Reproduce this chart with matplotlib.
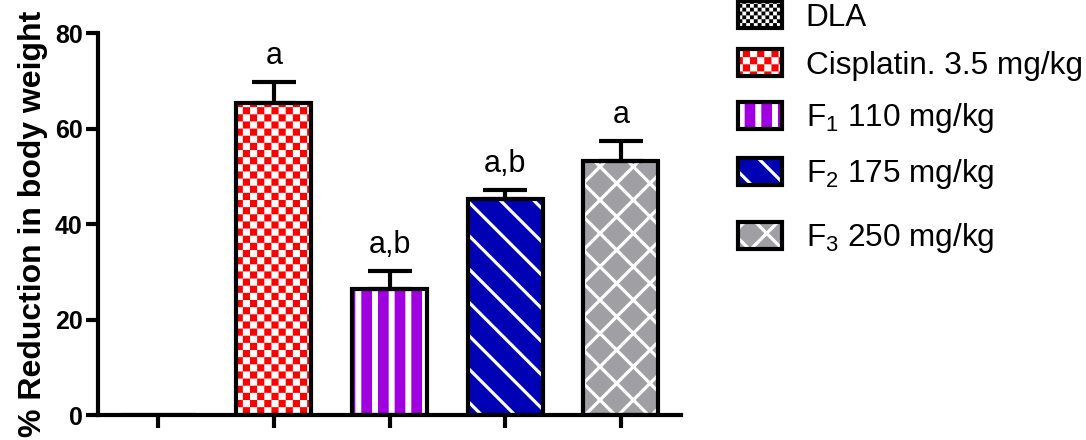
import warnings
import numpy as np
import matplotlib
matplotlib.use("Agg")
import matplotlib.pyplot as plt
from matplotlib import hatch as mhatch
from matplotlib.path import Path
from matplotlib.patches import Patch
from matplotlib.legend_handler import HandlerTuple, HandlerPatch

warnings.filterwarnings("ignore", category=matplotlib.MatplotlibDeprecationWarning)

# ---- data -------------------------------------------------------------
groups = ["DLA", "Cisplatin. 3.5 mg/kg", "F$_1$ 110 mg/kg",
          "F$_2$ 175 mg/kg", "F$_3$ 250 mg/kg"]
reduction = [0.0, 65.4, 26.3, 45.3, 53.2]
sem = [0.0, 4.4, 3.9, 1.9, 4.1]
letters = ["", "a", "a,b", "a,b", "a"]
yticks = [0, 20, 40, 60, 80]


# ---- checkerboard hatch ------------------------------------------------
class CheckerHatch(mhatch.HatchPatternBase):
    """Filled checkerboard; every 'c' adds two squares per hatch tile side."""

    def __init__(self, hatch, density):
        self.n = 2 * hatch.count("c")
        self.num_vertices = (self.n * self.n // 2) * 5

    def set_vertices_and_codes(self, vertices, codes):
        s = 1.0 / self.n
        k = 0
        for i in range(self.n):
            for j in range(self.n):
                if (i + j) % 2:
                    continue
                x0, y0 = i * s, j * s
                vertices[k:k + 5] = [(x0, y0), (x0 + s, y0), (x0 + s, y0 + s),
                                     (x0, y0 + s), (x0, y0)]
                codes[k] = Path.MOVETO
                codes[k + 1:k + 4] = Path.LINETO
                codes[k + 4] = Path.CLOSEPOLY
                k += 5


mhatch._hatch_types.append(CheckerHatch)


class HandlerHatchWidth(HandlerPatch):
    """Legend patch that keeps the hatch line width of its source patch."""

    def create_artists(self, legend, orig_handle, xdescent, ydescent,
                       width, height, fontsize, trans):
        artists = super().create_artists(legend, orig_handle, xdescent,
                                         ydescent, width, height, fontsize,
                                         trans)
        lw = getattr(orig_handle, "_hatch_lw_pt", None)
        if lw is not None:
            for a in artists:
                if hasattr(a, "set_hatch_linewidth"):
                    a.set_hatch_linewidth(lw)
                else:
                    a._hatch_linewidth = lw
        return artists


# face colour, hatch pattern, hatch colour, hatch line width (pt)
styles = [
    ("white", "c" * 13, "black", 0.01),
    ("white", "c" * 7, "#FF0000", 0.01),
    ("#A000E0", "|", "white", 4.3),
    ("#0000B4", "\\", "white", 2.3),
    ("#A0A0A4", "x", "white", 2.3),
]
# vertical centre of each legend row, in pixels from the top of the figure
legend_rows_px = [17, 65, 118, 174, 238]

plt.rcParams["font.family"] = ["Liberation Sans", "DejaVu Sans"]
plt.rcParams["mathtext.fontset"] = "custom"
plt.rcParams["mathtext.rm"] = "Liberation Sans"
plt.rcParams["mathtext.it"] = "Liberation Sans:italic"
plt.rcParams["mathtext.default"] = "regular"

W, H = 1086, 440
fig = plt.figure(figsize=(W / 100, H / 100), dpi=100)
ax = fig.add_axes([98 / W, 1 - 415 / H, (681 - 98) / W, (415 - 33) / H])

x = np.arange(len(groups))
width = 0.65

legend_handles = []
for i, (face, hatch, hcolor, hlw) in enumerate(styles):
    with plt.rc_context({"hatch.linewidth": hlw}):
        bars = ax.bar(x[i], reduction[i], width=width, color=face,
                      edgecolor=hcolor, linewidth=0, hatch=hatch, zorder=2)
        fill_handle = Patch(facecolor=face, edgecolor=hcolor, linewidth=0,
                            hatch=hatch)
    for b in bars:
        if hasattr(b, "set_hatch_linewidth"):
            b.set_hatch_linewidth(hlw)
    fill_handle._hatch_lw_pt = hlw
    edge_handle = Patch(facecolor="none", edgecolor="black", linewidth=3)
    legend_handles.append((fill_handle, edge_handle))

ax.bar(x, reduction, width=width, fill=False, edgecolor="black",
       linewidth=3, zorder=3)

has_err = np.array(sem) > 0
ax.errorbar(x[has_err], np.array(reduction)[has_err],
            yerr=[np.zeros(has_err.sum()), np.array(sem)[has_err]],
            fmt="none", ecolor="black", elinewidth=3, capsize=16,
            capthick=3, zorder=2.5)

for xi, val, err, lab in zip(x, reduction, sem, letters):
    if lab:
        ax.annotate(lab, (xi, val + err), xytext=(0, 13),
                    textcoords="offset points", ha="center", va="baseline",
                    fontsize=22)

ax.set_xlim(-0.52, len(groups) - 0.48)
ax.set_ylim(0, 80)
ax.set_yticks(yticks)
ax.set_xticks(x)
ax.set_xticklabels([])
for side in ("top", "right"):
    ax.spines[side].set_visible(False)
for side in ("left", "bottom"):
    ax.spines[side].set_linewidth(3)
ax.tick_params(axis="both", width=3, length=9, labelsize=18, pad=2)
for t in ax.get_yticklabels():
    t.set_fontweight("bold")
ax.set_ylabel("% Reduction in body weight", fontsize=23, fontweight="bold",
              labelpad=5)

hmap = {tuple: HandlerTuple(ndivide=1, pad=0), Patch: HandlerHatchWidth()}
for handle, label, row in zip(legend_handles, groups, legend_rows_px):
    fig.legend([handle], [label], loc="center left",
               bbox_to_anchor=(738 / W, 1 - row / H), frameon=False,
               fontsize=22.7, handlelength=1.4, handleheight=0.95,
               handletextpad=0.75, borderpad=0, borderaxespad=0,
               handler_map=hmap)

fig.savefig("out.png", dpi=100)
